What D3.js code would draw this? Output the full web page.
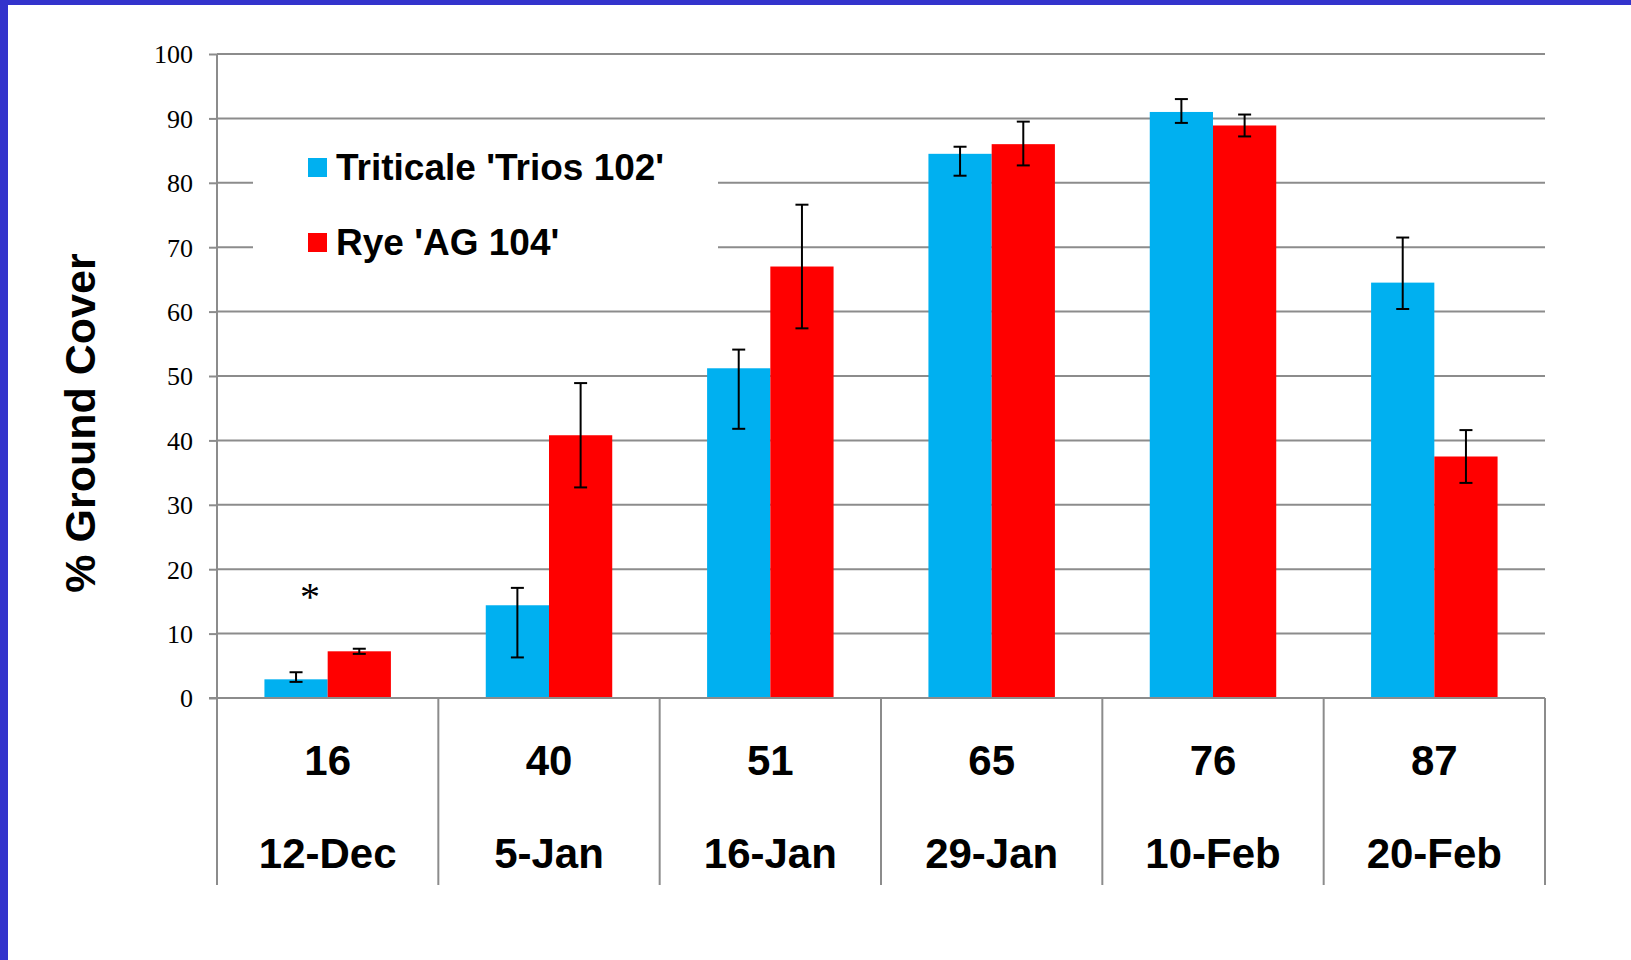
<!DOCTYPE html>
<html>
<head>
<meta charset="utf-8">
<script src="https://cdn.jsdelivr.net/npm/d3@7"></script>
<style>
  body { margin: 0; background: #ffffff; }
  svg { display: block; }
</style>
</head>
<body>
<div id="chart"></div>
<script>

    /////////////////////////////////////////////////////////////////////////////
                          ///////    Data    ///////
    /////////////////////////////////////////////////////////////////////////////

    var days   = ["16", "40", "51", "65", "76", "87"];
    var dates  = ["12-Dec", "5-Jan", "16-Jan", "29-Jan", "10-Feb", "20-Feb"];
    var series = ["Triticale 'Trios 102'", "Rye 'AG 104'"];

    var triticale      = [2.9, 14.4, 51.2, 84.5, 91.0, 64.5];
    var triticalePlus  = [1.1, 2.7, 2.9, 1.1, 2.0, 7.0];
    var triticaleMinus = [0.4, 8.1, 9.4, 3.4, 1.7, 4.1];

    var rye      = [7.25, 40.8, 67.0, 86.0, 88.9, 37.5];
    var ryePlus  = [0.4, 8.1, 9.6, 3.5, 1.7, 4.1];
    var ryeMinus = [0.4, 8.1, 9.6, 3.3, 1.7, 4.1];

    var yTicks = [0, 10, 20, 30, 40, 50, 60, 70, 80, 90, 100];
    var yTitle = "% Ground Cover";

    // significance marker above the first sampling date
    var marks = [{date: "12-Dec", text: "*", value: 13.6}];

    /////////////////////////////////////////////////////////////////////////////
                          ///////    Variables    ///////
    /////////////////////////////////////////////////////////////////////////////

    var w = 1631;
    var h = 960;

    var plotLeft = 217, plotRight = 1545, plotTop = 54, plotBottom = 698, catBottom = 885;

    var colors     = ["#00b0f0", "#ff0000"];
    var gridColor  = "#8c8c8c";
    var frameColor = "#3333cc";
    var sans  = "'Liberation Sans', Arial, sans-serif";
    var serif = "'Liberation Serif', 'Times New Roman', serif";

    var rows = dates.map((d, i) => ({
        date: d, day: days[i],
        vals: [
            {s: series[0], v: triticale[i], plus: triticalePlus[i], minus: triticaleMinus[i]},
            {s: series[1], v: rye[i],       plus: ryePlus[i],       minus: ryeMinus[i]}
        ]
    }));

    var x0 = d3.scaleBand().domain(dates).range([plotLeft, plotRight]).padding(0);
    var x1 = d3.scaleBand().domain(series).range([0, x0.bandwidth()]).paddingInner(0).paddingOuter(0.75);
    var y  = d3.scaleLinear().domain([0, 100]).range([plotBottom, plotTop]);
    var color = d3.scaleOrdinal().domain(series).range(colors);

    var svg = d3.select("#chart").append("svg").attr("width", w).attr("height", h);

    /////////////////////////////////////////////////////////////////////////////
                          ///////    Grid & Axes    ///////
    /////////////////////////////////////////////////////////////////////////////

    var yAxis = svg.append("g")
        .attr("transform", "translate(" + plotLeft + ",0)")
        .call(d3.axisLeft(y).tickValues(yTicks).tickSize(8).tickSizeOuter(0).tickPadding(16));

    yAxis.select(".domain").remove();
    yAxis.selectAll(".tick line").attr("stroke", gridColor).attr("stroke-width", 2);
    yAxis.selectAll(".tick text")
        .attr("fill", "#000")
        .attr("dy", "0.34em")
        .style("font-family", serif)
        .style("font-size", "26px");

    svg.append("g").selectAll("line")
        .data(yTicks)
        .enter().append("line")
        .attr("x1", plotLeft).attr("x2", plotRight)
        .attr("y1", d => y(d)).attr("y2", d => y(d))
        .attr("stroke", gridColor)
        .attr("stroke-width", 2);

    // vertical axis line, carried down through the category table
    svg.append("line")
        .attr("x1", plotLeft).attr("x2", plotLeft)
        .attr("y1", plotTop).attr("y2", catBottom)
        .attr("stroke", gridColor).attr("stroke-width", 2);

    // category separators
    svg.append("g").selectAll("line")
        .data(dates.slice(1).map(d => x0(d)).concat([plotRight]))
        .enter().append("line")
        .attr("x1", d => d).attr("x2", d => d)
        .attr("y1", plotBottom).attr("y2", catBottom)
        .attr("stroke", gridColor).attr("stroke-width", 2);

    /////////////////////////////////////////////////////////////////////////////
                          ///////    Bars    ///////
    /////////////////////////////////////////////////////////////////////////////

    var group = svg.append("g").selectAll("g")
        .data(rows)
        .enter().append("g")
        .attr("transform", d => "translate(" + x0(d.date) + ",0)");

    group.selectAll("rect")
        .data(d => d.vals)
        .enter().append("rect")
        .attr("x", d => x1(d.s))
        .attr("y", d => y(d.v))
        .attr("width", x1.bandwidth())
        .attr("height", d => y(0) - y(d.v))
        .attr("fill", d => color(d.s));

    var capHalf = 6.5;
    var err = group.selectAll("g.err")
        .data(d => d.vals)
        .enter().append("g")
        .attr("class", "err")
        .attr("stroke", "#000")
        .attr("stroke-width", 2);

    err.append("line")
        .attr("x1", d => x1(d.s) + x1.bandwidth() / 2)
        .attr("x2", d => x1(d.s) + x1.bandwidth() / 2)
        .attr("y1", d => y(d.v + d.plus))
        .attr("y2", d => y(d.v - d.minus));
    err.append("line")
        .attr("x1", d => x1(d.s) + x1.bandwidth() / 2 - capHalf)
        .attr("x2", d => x1(d.s) + x1.bandwidth() / 2 + capHalf)
        .attr("y1", d => y(d.v + d.plus))
        .attr("y2", d => y(d.v + d.plus));
    err.append("line")
        .attr("x1", d => x1(d.s) + x1.bandwidth() / 2 - capHalf)
        .attr("x2", d => x1(d.s) + x1.bandwidth() / 2 + capHalf)
        .attr("y1", d => y(d.v - d.minus))
        .attr("y2", d => y(d.v - d.minus));

    // x axis baseline on top of the bars
    svg.append("line")
        .attr("x1", plotLeft - 8).attr("x2", plotRight)
        .attr("y1", y(0)).attr("y2", y(0))
        .attr("stroke", gridColor).attr("stroke-width", 2);

    svg.append("g").selectAll("text")
        .data(marks)
        .enter().append("text")
        .attr("x", d => x0(d.date) + x1.bandwidth() * 1.47)
        .attr("y", d => y(d.value))
        .attr("text-anchor", "middle")
        .style("font-family", serif)
        .style("font-size", "40px")
        .text(d => d.text);

    /////////////////////////////////////////////////////////////////////////////
                          ///////    Category labels    ///////
    /////////////////////////////////////////////////////////////////////////////

    var cat = svg.append("g").selectAll("g")
        .data(rows)
        .enter().append("g")
        .attr("transform", d => "translate(" + (x0(d.date) + x0.bandwidth() / 2) + ",0)")
        .style("font-family", sans)
        .style("font-weight", "bold")
        .style("font-size", "42px")
        .attr("text-anchor", "middle");

    cat.append("text").attr("y", 775).text(d => d.day);
    cat.append("text").attr("y", 868).text(d => d.date);

    svg.append("text")
        .attr("transform", "translate(95,423) rotate(-90)")
        .attr("text-anchor", "middle")
        .style("font-family", sans)
        .style("font-weight", "bold")
        .style("font-size", "43px")
        .text(yTitle);

    /////////////////////////////////////////////////////////////////////////////
                          ///////    Legend    ///////
    /////////////////////////////////////////////////////////////////////////////

    var legend = svg.append("g");
    legend.append("rect")
        .attr("x", 253).attr("y", 128)
        .attr("width", 465).attr("height", 165)
        .attr("fill", "#ffffff");

    var item = legend.selectAll("g")
        .data(series)
        .enter().append("g")
        .attr("transform", (d, i) => "translate(308," + (158 + i * 75) + ")");

    item.append("rect")
        .attr("width", 19).attr("height", 19)
        .attr("fill", d => color(d));
    item.append("text")
        .attr("x", 28).attr("y", 22)
        .style("font-family", sans)
        .style("font-weight", "bold")
        .style("font-size", "37px")
        .text(d => d);

    /////////////////////////////////////////////////////////////////////////////
                          ///////    Frame    ///////
    /////////////////////////////////////////////////////////////////////////////

    svg.append("rect").attr("x", 0).attr("y", 0).attr("width", 8).attr("height", h).attr("fill", frameColor);
    svg.append("rect").attr("x", 0).attr("y", 0).attr("width", w).attr("height", 5).attr("fill", frameColor);

</script>
</body>
</html>
